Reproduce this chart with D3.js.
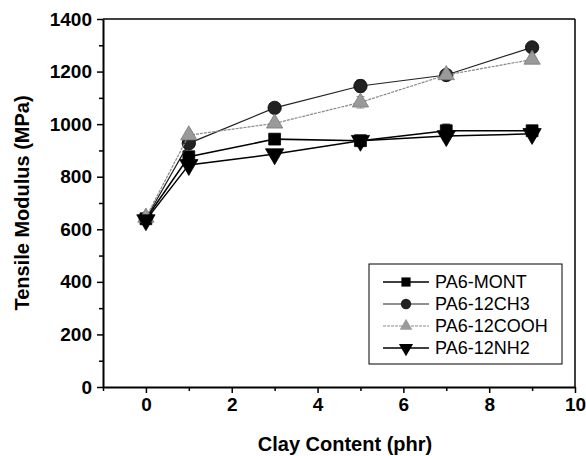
<!DOCTYPE html>
<html>
<head>
<meta charset="utf-8">
<script src="https://cdn.jsdelivr.net/npm/d3@7"></script>
<style>
  body { margin: 0; background: #fff; }
  text { font-family: "Liberation Sans", Arial, sans-serif; }
</style>
</head>
<body>
<svg width="586" height="456"></svg>
<script>
let clay = [0, 1, 3, 5, 7, 9];

let mont = [640, 876, 943, 937, 975, 975],
    ch3 = [640, 927, 1062, 1145, 1187, 1292],
    cooh = [645, 958, 1003, 1083, 1187, 1246],
    nh2 = [635, 845, 886, 937, 955, 963];

let montErr = [8, 10, 12, 20, 25, 12],
    ch3Err = [8, 10, 10, 22, 10, 10],
    coohErr = [8, 12, 10, 22, 12, 12],
    nh2Err = [8, 10, 10, 15, 15, 12];

let seriesNames = ["PA6-MONT", "PA6-12CH3", "PA6-12COOH", "PA6-12NH2"];
let xTicks = [0, 2, 4, 6, 8, 10],
    yTicks = [0, 200, 400, 600, 800, 1000, 1200, 1400];

let svg = d3.select("svg"),
    margin = {top: 19, right: 11, bottom: 69, left: 103},
    width = 586 - margin.left - margin.right,
    height = 456 - margin.top - margin.bottom;

let x = d3.scaleLinear().domain([-1, 10]).range([0, width]),
    y = d3.scaleLinear().domain([0, 1400]).range([height, 0]);

let g = svg.append("g").attr("transform", "translate(" + margin.left + "," + margin.top + ")");

// minor ticks
g.append("g")
    .attr("transform", "translate(0," + height + ")")
    .call(d3.axisBottom(x).tickValues(d3.range(-1, 10, 2)).tickSize(4).tickFormat(""))
    .call(a => a.select(".domain").remove());
g.append("g")
    .call(d3.axisLeft(y).tickValues(d3.range(100, 1400, 200)).tickSize(4).tickFormat(""))
    .call(a => a.select(".domain").remove());

let xAxis = g.append("g")
    .attr("transform", "translate(0," + height + ")")
    .call(d3.axisBottom(x).tickValues(xTicks).tickFormat(d3.format("d")).tickSize(6).tickPadding(5).tickSizeOuter(0));
let yAxis = g.append("g")
    .call(d3.axisLeft(y).tickValues(yTicks).tickFormat(d3.format("d")).tickSize(6).tickPadding(5).tickSizeOuter(0));

[xAxis, yAxis].forEach(a => {
  a.selectAll("text").style("font-size", "19px").style("font-weight", "bold").attr("fill", "#000");
  a.select(".domain").attr("stroke-width", 2);
});
g.selectAll(".tick line").attr("stroke-width", 1.5);

// top and right frame
g.append("line").attr("x1", 0).attr("x2", width).attr("y1", 0).attr("y2", 0)
    .attr("stroke", "#000").attr("stroke-width", 1.5);
g.append("line").attr("x1", width).attr("x2", width).attr("y1", 0).attr("y2", height)
    .attr("stroke", "#000").attr("stroke-width", 1.5);

svg.append("text")
    .attr("x", margin.left + width / 2 + 6)
    .attr("y", 451)
    .attr("text-anchor", "middle")
    .style("font-size", "20px").style("font-weight", "bold")
    .text("Clay Content (phr)");

svg.append("text")
    .attr("transform", "translate(29," + (margin.top + height / 2) + ") rotate(-90)")
    .attr("text-anchor", "middle")
    .style("font-size", "20px").style("font-weight", "bold")
    .text("Tensile Modulus (MPa)");

let styles = [
  {vals: mont, err: montErr, line: "#000", lw: 1.5, dash: null, sym: d3.symbolSquare, size: 140, fill: "#000", rot: 0},
  {vals: ch3, err: ch3Err, line: "#222", lw: 1.2, dash: null, sym: d3.symbolCircle, size: 140, fill: "#222", rot: 0},
  {vals: cooh, err: coohErr, line: "#8a8a8a", lw: 1.2, dash: "3,1", sym: d3.symbolTriangle, size: 115, fill: "#9a9a9a", rot: 0},
  {vals: nh2, err: nh2Err, line: "#000", lw: 1.5, dash: null, sym: d3.symbolTriangle, size: 145, fill: "#000", rot: 180}
];

let line = d3.line()
    .x(function(d, i) { return x(clay[i]); })
    .y(function(d) { return y(d); });

styles.forEach(function(s) {
  g.append("path")
      .datum(s.vals)
      .attr("fill", "none")
      .attr("stroke", s.line)
      .attr("stroke-width", s.lw)
      .attr("stroke-dasharray", s.dash)
      .attr("d", line);

  g.selectAll(null)
      .data(s.vals)
    .enter().append("path")
      .attr("d", function(d, i) {
        let cx = x(clay[i]), hi = y(d + s.err[i]), lo = y(d - s.err[i]);
        return "M" + cx + "," + hi + "V" + lo + "M" + (cx - 4) + "," + hi + "H" + (cx + 4) + "M" + (cx - 4) + "," + lo + "H" + (cx + 4);
      })
      .attr("stroke", s.fill)
      .attr("stroke-width", 1)
      .attr("fill", "none");

  g.selectAll(null)
      .data(s.vals)
    .enter().append("path")
      .attr("d", d3.symbol().type(s.sym).size(s.size))
      .attr("transform", function(d, i) { return "translate(" + x(clay[i]) + "," + y(d) + ") rotate(" + s.rot + ")"; })
      .attr("fill", s.fill)
      .attr("stroke", s.fill === "#9a9a9a" ? "#777" : "#000")
      .attr("stroke-width", 0.8);
});

// legend
let legend = svg.append("g").attr("transform", "translate(369,264)");
legend.append("rect")
    .attr("width", 193).attr("height", 100)
    .attr("fill", "#fff").attr("stroke", "#000").attr("stroke-width", 1);

let rows = legend.selectAll(".row")
    .data(styles)
  .enter().append("g")
    .attr("class", "row")
    .attr("transform", function(d, i) { return "translate(0," + (18 + i * 22) + ")"; });

rows.append("line")
    .attr("x1", 14).attr("x2", 60)
    .attr("stroke", function(d) { return d.line; })
    .attr("stroke-width", function(d) { return d.lw; })
    .attr("stroke-dasharray", function(d) { return d.dash; });
rows.append("path")
    .attr("d", function(d) { return d3.symbol().type(d.sym).size(d.size * 0.6)(); })
    .attr("transform", function(d) { return "translate(37,0) rotate(" + d.rot + ")"; })
    .attr("fill", function(d) { return d.fill; });
rows.append("text")
    .attr("x", 66).attr("dy", "0.35em")
    .style("font-size", "18px")
    .text(function(d, i) { return seriesNames[i]; });
</script>
</body>
</html>
